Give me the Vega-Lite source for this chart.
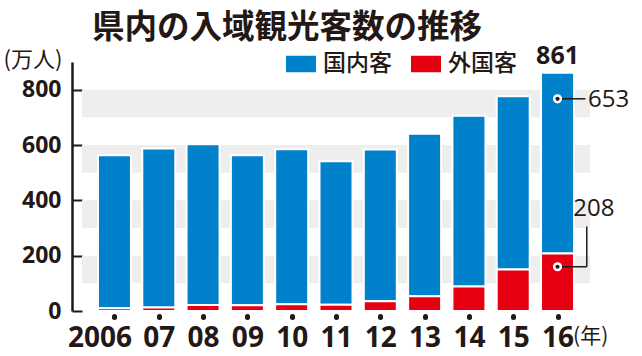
{
  "$schema": "https://vega.github.io/schema/vega-lite/v6.json",
  "width": 508,
  "height": 249,
  "autosize": {"type": "none"},
  "padding": {"left": 82, "top": 62, "right": 52, "bottom": 45},
  "background": "white",
  "config": {"view": {"stroke": null}, "font": "Noto Sans CJK JP"},
  "title": {
    "text": "県内の入域観光客数の推移",
    "anchor": "start",
    "frame": "group",
    "dx": 10,
    "offset": -1,
    "fontSize": 32.5,
    "fontWeight": "bold",
    "font": "Noto Sans CJK JP",
    "color": "#231815"
  },
  "datasets": {
    "main": [
      {"year": 2006, "type": "国内客", "value": 553},
      {"year": 2006, "type": "外国客", "value": 10},
      {"year": 2007, "type": "国内客", "value": 574},
      {"year": 2007, "type": "外国客", "value": 13},
      {"year": 2008, "type": "国内客", "value": 581},
      {"year": 2008, "type": "外国客", "value": 22},
      {"year": 2009, "type": "国内客", "value": 542},
      {"year": 2009, "type": "外国客", "value": 21},
      {"year": 2010, "type": "国内客", "value": 561},
      {"year": 2010, "type": "外国客", "value": 24},
      {"year": 2011, "type": "国内客", "value": 518},
      {"year": 2011, "type": "外国客", "value": 23},
      {"year": 2012, "type": "国内客", "value": 549},
      {"year": 2012, "type": "外国客", "value": 35},
      {"year": 2013, "type": "国内客", "value": 588},
      {"year": 2013, "type": "外国客", "value": 53},
      {"year": 2014, "type": "国内客", "value": 617},
      {"year": 2014, "type": "外国客", "value": 89},
      {"year": 2015, "type": "国内客", "value": 626},
      {"year": 2015, "type": "外国客", "value": 150},
      {"year": 2016, "type": "国内客", "value": 653},
      {"year": 2016, "type": "外国客", "value": 208}
    ],
    "bands": [
      {"value": 100, "value2": 200},
      {"value": 300, "value2": 400},
      {"value": 500, "value2": 600},
      {"value": 700, "value2": 800}
    ]
  },
  "layer": [
    {
      "data": {"name": "bands"},
      "mark": {"type": "rect", "color": "#eeeeee"},
      "encoding": {
        "y": {
          "field": "value",
          "type": "quantitative",
          "scale": {"domain": [0, 900], "nice": false},
          "axis": {
            "title": "(万人)",
            "titleAngle": 0,
            "titleAlign": "left",
            "titleBaseline": "middle",
            "titleX": -69,
            "titleY": -3,
            "titleFontSize": 22,
            "titleFontWeight": "normal",
            "titleFont": "Noto Sans CJK JP",
            "titleColor": "#231815",
            "values": [0, 100, 200, 300, 400, 500, 600, 700, 800, 900],
            "labelExpr": "datum.value % 200 == 0 && datum.value < 900 ? datum.label : ''",
            "labelFont": "Open Sans",
            "labelFontSize": 23,
            "labelFontWeight": "bold",
            "labelColor": "#231815",
            "labelPadding": 21,
            "labelBaseline": "middle",
            "tickSize": -10,
            "tickWidth": 2,
            "tickColor": "#231815",
            "domainColor": "#231815",
            "domainWidth": 2.5,
            "offset": 10,
            "grid": false
          }
        },
        "y2": {"field": "value2"}
      }
    },
    {
      "data": {"name": "main"},
      "mark": {"type": "bar", "width": 33, "stroke": "white", "strokeWidth": 2},
      "encoding": {
        "x": {
          "field": "year",
          "type": "quantitative",
          "scale": {"domain": [2005.38, 2016.62], "nice": false, "zero": false},
          "axis": {
            "values": [2006, 2007, 2008, 2009, 2010, 2011, 2012, 2013, 2014, 2015, 2016],
            "format": "d",
            "labelExpr": "datum.value == 2006 ? datum.label : substring(datum.label, 2)",
            "labelAlign": {"condition": {"test": "datum.value == 2006", "value": "right"}, "value": "center"},
            "labelOffset": {"condition": {"test": "datum.value == 2006", "value": 17}, "value": 0},
            "domain": false,
            "grid": false,
            "tickCap": "round",
            "tickWidth": 5,
            "tickSize": 1,
            "tickColor": "#231815",
            "offset": 5,
            "labelPadding": 7,
            "labelFont": "Open Sans",
            "labelFontSize": 28,
            "labelFontWeight": "bold",
            "labelColor": "#231815",
            "labelFlush": false,
            "labelOverlap": false,
            "title": null
          }
        },
        "y": {
          "field": "value",
          "type": "quantitative",
          "stack": "zero",
          "scale": {"domain": [0, 900], "nice": false}
        },
        "order": {"field": "type", "sort": "descending"},
        "color": {
          "field": "type",
          "type": "nominal",
          "scale": {"domain": ["国内客", "外国客"], "range": ["#0081cc", "#e60012"]},
          "legend": {
            "orient": "none",
            "legendX": 204,
            "legendY": -13,
            "direction": "horizontal",
            "title": null,
            "symbolType": "M-1,-0.55H1V0.55H-1Z",
            "symbolSize": 900,
            "symbolStrokeWidth": 0,
            "symbolOpacity": 1,
            "labelFontSize": 23,
            "labelFont": "Noto Sans CJK JP",
            "labelFontWeight": 500,
            "labelColor": "#231815",
            "labelOffset": 7,
            "columnPadding": 19,
            "padding": 0
          }
        }
      }
    },
    {
      "data": {"values": [
        {"year": 2016, "year2": 2016.63, "value": 767},
        {"year": 2016, "year2": 2016.66, "value": 160}
      ]},
      "mark": {"type": "rule", "color": "#231815", "strokeWidth": 1.5},
      "encoding": {
        "x": {"field": "year", "type": "quantitative", "scale": {"domain": [2005.38, 2016.62], "nice": false, "zero": false}},
        "x2": {"field": "year2"},
        "y": {"field": "value", "type": "quantitative", "scale": {"domain": [0, 900], "nice": false}}
      }
    },
    {
      "data": {"values": [
        {"year": 2016.66, "value": 160, "value2": 305}
      ]},
      "mark": {"type": "rule", "color": "#231815", "strokeWidth": 1.5},
      "encoding": {
        "x": {"field": "year", "type": "quantitative", "scale": {"domain": [2005.38, 2016.62], "nice": false, "zero": false}},
        "y": {"field": "value", "type": "quantitative", "scale": {"domain": [0, 900], "nice": false}},
        "y2": {"field": "value2"}
      }
    },
    {
      "data": {"values": [
        {"year": 2016, "value": 767},
        {"year": 2016, "value": 160}
      ]},
      "mark": {"type": "point", "filled": true, "fill": "#231815", "stroke": "white", "strokeWidth": 2.5, "size": 45, "opacity": 1},
      "encoding": {
        "x": {"field": "year", "type": "quantitative", "scale": {"domain": [2005.38, 2016.62], "nice": false, "zero": false}},
        "y": {"field": "value", "type": "quantitative", "scale": {"domain": [0, 900], "nice": false}}
      }
    },
    {
      "data": {"values": [
        {"year": 2016, "value": 923, "label": "861"}
      ]},
      "mark": {"type": "text", "font": "Open Sans", "fontSize": 25, "fontWeight": "bold", "color": "#231815", "align": "center", "baseline": "middle"},
      "encoding": {
        "x": {"field": "year", "type": "quantitative", "scale": {"domain": [2005.38, 2016.62], "nice": false, "zero": false}},
        "y": {"field": "value", "type": "quantitative", "scale": {"domain": [0, 900], "nice": false}},
        "text": {"field": "label"}
      }
    },
    {
      "data": {"values": [
        {"year": 2016.69, "value": 764, "label": "653"}
      ]},
      "mark": {"type": "text", "font": "Open Sans", "fontSize": 24, "color": "#231815", "align": "left", "baseline": "middle"},
      "encoding": {
        "x": {"field": "year", "type": "quantitative", "scale": {"domain": [2005.38, 2016.62], "nice": false, "zero": false}},
        "y": {"field": "value", "type": "quantitative", "scale": {"domain": [0, 900], "nice": false}},
        "text": {"field": "label"}
      }
    },
    {
      "data": {"values": [
        {"year": 2016.82, "value": 369, "label": "208"}
      ]},
      "mark": {"type": "text", "font": "Open Sans", "fontSize": 24, "color": "#231815", "align": "center", "baseline": "middle"},
      "encoding": {
        "x": {"field": "year", "type": "quantitative", "scale": {"domain": [2005.38, 2016.62], "nice": false, "zero": false}},
        "y": {"field": "value", "type": "quantitative", "scale": {"domain": [0, 900], "nice": false}},
        "text": {"field": "label"}
      }
    },
    {
      "data": {"values": [
        {"year": 2016.35, "value": -94, "label": "(年)"}
      ]},
      "mark": {"type": "text", "font": "Noto Sans CJK JP", "fontSize": 21, "color": "#231815", "align": "left", "baseline": "middle"},
      "encoding": {
        "x": {"field": "year", "type": "quantitative", "scale": {"domain": [2005.38, 2016.62], "nice": false, "zero": false}},
        "y": {"field": "value", "type": "quantitative", "scale": {"domain": [0, 900], "nice": false}},
        "text": {"field": "label"}
      }
    }
  ]
}
